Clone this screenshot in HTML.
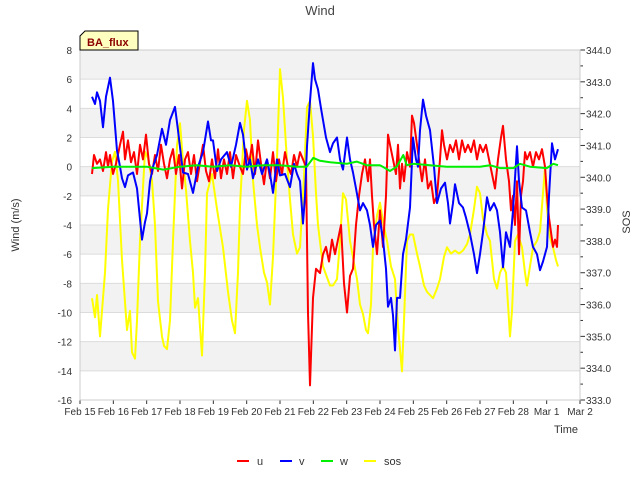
<!DOCTYPE html>
<html><head><meta charset="utf-8"><style>
body{margin:0;background:#fff;}
svg{display:block;font-family:"Liberation Sans",sans-serif;}
</style></head><body>
<svg id="chart" width="640" height="480"></svg>
<script>
const xTickLabels=["Feb 15","Feb 16","Feb 17","Feb 18","Feb 19","Feb 20","Feb 21","Feb 22","Feb 23","Feb 24","Feb 25","Feb 26","Feb 27","Feb 28","Mar 1","Mar 2"];
const yTicks=[8,6,4,2,0,-2,-4,-6,-8,-10,-12,-14,-16];
const y2Ticks=[344,343,342,341,340,339,338,337,336,335,334,333];
const uT=[0.36,0.42,0.51,0.6,0.69,0.78,0.84,0.9,0.99,1.08,1.2,1.29,1.35,1.44,1.53,1.62,1.71,1.8,1.89,1.98,2.07,2.16,2.25,2.34,2.43,2.52,2.61,2.7,2.79,2.88,2.97,3.06,3.15,3.24,3.33,3.42,3.51,3.6,3.69,3.78,3.87,3.96,4.05,4.14,4.23,4.32,4.41,4.5,4.59,4.68,4.8,4.89,4.98,5.07,5.16,5.25,5.34,5.43,5.52,5.61,5.7,5.79,5.88,5.97,6.06,6.15,6.24,6.33,6.42,6.51,6.6,6.69,6.78,6.84,6.9,6.99,7.08,7.2,7.29,7.38,7.47,7.56,7.65,7.74,7.83,7.92,8.01,8.1,8.19,8.28,8.37,8.46,8.55,8.64,8.7,8.76,8.82,8.91,9.0,9.09,9.18,9.24,9.3,9.39,9.48,9.54,9.6,9.66,9.72,9.81,9.9,9.96,10.02,10.08,10.14,10.2,10.26,10.35,10.44,10.53,10.62,10.71,10.8,10.86,10.92,11.01,11.1,11.19,11.28,11.37,11.46,11.55,11.64,11.73,11.82,11.91,12.0,12.09,12.18,12.27,12.36,12.45,12.54,12.63,12.69,12.78,12.87,12.93,12.99,13.05,13.11,13.17,13.23,13.29,13.35,13.41,13.5,13.59,13.68,13.77,13.86,13.95,14.01,14.07,14.13,14.19,14.25,14.31,14.34];
const uV=[-0.5,0.8,0.2,0.5,-0.3,1,0,0.8,-0.5,0.2,1.5,2.4,0.5,1.8,0.3,1,-0.5,1.5,0.5,2.2,0.2,-0.5,0.8,-0.3,1.5,0.2,-0.8,0.5,1.2,-0.5,0.8,-1.5,0.5,1,-0.5,0.8,-1,0.3,1.5,-0.3,-1,0.5,-0.8,1.2,-0.8,0.5,-0.5,1,-0.8,0.8,0,-0.5,1.2,0.2,1.5,-0.5,1.8,0.2,-1.2,0.5,-0.8,1,-1,0.5,-0.5,1,0,-0.5,0.8,0,1,0.5,0,-10,-15,-9,-7,-7.3,-6,-5.5,-6.5,-5,-6,-5,-4,-8,-10,-7.5,-7,-4,-2,-0.5,0.5,-1,0.5,-2,-4,-6,-3,-5.5,-2,2.2,1.5,0.5,-0.5,1.5,-1.5,0.2,-1,1,0,3.5,3,2,1,0,-1,0.5,-1.5,-1,-2.5,-2,0.5,2.5,1.5,0.5,1.5,1,1.8,0.5,1.8,1,1.5,1,1.8,0.5,1.5,1,1.5,0.5,-0.5,-1.5,0.5,2,2.8,0.5,-1,-3,-2,-4,-1,-6,-2,-1,1,0.5,1,0,1,0.5,1.2,0,-2,-3.5,-4.5,-5.5,-5,-5.5,-4];
const vT=[0.36,0.45,0.51,0.6,0.69,0.78,0.9,0.99,1.11,1.2,1.26,1.35,1.44,1.59,1.71,1.86,1.95,2.01,2.1,2.19,2.31,2.46,2.58,2.7,2.85,2.94,3.09,3.24,3.39,3.54,3.69,3.84,3.93,3.99,4.11,4.23,4.41,4.53,4.68,4.8,4.89,5.01,5.1,5.19,5.34,5.46,5.61,5.7,5.79,5.91,6.0,6.15,6.3,6.42,6.51,6.6,6.69,6.75,6.81,6.9,6.99,7.05,7.14,7.23,7.29,7.38,7.5,7.59,7.71,7.8,7.89,8.01,8.1,8.19,8.28,8.4,8.49,8.61,8.7,8.79,8.88,9.0,9.09,9.18,9.24,9.33,9.39,9.45,9.51,9.6,9.69,9.78,9.9,9.99,10.08,10.14,10.2,10.29,10.38,10.5,10.62,10.71,10.83,10.95,11.04,11.1,11.19,11.25,11.37,11.49,11.58,11.7,11.82,11.91,12.0,12.09,12.21,12.3,12.42,12.51,12.6,12.69,12.78,12.9,12.99,13.11,13.17,13.26,13.38,13.5,13.59,13.71,13.8,13.89,14.01,14.07,14.16,14.25,14.34];
const vV=[4.8,4.3,5.1,4.5,2.7,4.8,6.1,4.5,1.1,0,-0.8,-1.4,-0.6,-0.4,-1.5,-5,-3.8,-3.2,-1,0,0.8,2.6,1.5,3.2,4.1,2.5,-0.4,-0.5,-1.8,0,1,3.1,1.8,1.8,-0.3,0.5,1,0,1.5,3,2.2,-0.2,0.5,-0.8,0.5,-0.5,0.5,-0.5,-1.8,0.5,-0.6,-0.5,-1.4,0.2,-0.5,-1,-3.9,-2,1.4,4.5,7.1,6,5.3,4,3.2,2,1,1.6,2,0.5,-0.2,2,0.5,-0.4,-1.5,-3,-2.5,-3,-4,-5.5,-4,-3.7,-5,-7,-9.6,-9,-10.2,-12.6,-9,-9,-6,-5,-2.8,2,0.5,0,2.5,4.6,3.5,2.5,0,-2.5,-1.5,-1.1,-2.5,-3.9,-2.5,-1.2,-2.5,-2.8,-3.5,-4.6,-6,-7.3,-6,-4.5,-2.1,-3,-2.5,-3,-4.5,-6.9,-4.5,-5.5,-3,1.4,-1,-2.8,-3,-4.5,-5.5,-6,-7.1,-6.5,-5.5,-2,1.6,0.5,1.2];
const wT=[0.36,1.0,1.5,2.0,2.5,3.0,3.5,4.0,4.5,5.0,5.5,6.0,6.5,6.8,7.0,7.2,7.5,8.0,8.3,8.6,9.0,9.3,9.5,9.7,9.8,10.0,10.5,11.0,11.5,12.0,12.3,12.6,13.0,13.2,13.5,14.0,14.2,14.34];
const wV=[-0.1,0,0,0,-0.2,0,0.1,0,0.1,0,0.1,0.1,0,0,0.6,0.4,0.3,0.2,0.35,0.1,0.1,-0.3,0,0.8,0.1,0.2,0.1,0,0,0,0.1,-0.1,-0.1,0.2,0,-0.1,0.2,0.1];
const sT=[0.36,0.45,0.51,0.6,0.75,0.84,0.96,1.05,1.14,1.26,1.41,1.5,1.56,1.65,1.71,1.8,1.95,2.04,2.16,2.25,2.34,2.46,2.52,2.61,2.7,2.79,2.91,3.0,3.09,3.18,3.3,3.39,3.45,3.54,3.66,3.75,3.81,3.96,4.11,4.29,4.44,4.56,4.65,4.74,4.8,4.92,5.01,5.1,5.19,5.31,5.4,5.52,5.61,5.7,5.79,5.91,6.0,6.09,6.21,6.3,6.39,6.51,6.6,6.72,6.81,6.9,6.99,7.08,7.14,7.29,7.5,7.59,7.71,7.8,7.89,7.98,8.1,8.22,8.31,8.4,8.49,8.58,8.64,8.73,8.79,8.91,9.0,9.09,9.21,9.33,9.45,9.54,9.66,9.72,9.81,9.9,9.99,10.11,10.2,10.32,10.41,10.5,10.59,10.71,10.8,10.92,11.01,11.13,11.25,11.37,11.49,11.61,11.7,11.82,11.91,12.0,12.09,12.21,12.3,12.42,12.51,12.6,12.69,12.78,12.84,12.9,12.96,13.05,13.14,13.26,13.35,13.41,13.5,13.59,13.71,13.8,13.89,13.95,14.01,14.1,14.19,14.28,14.34];
const sV=[336.2,335.6,336.3,335.0,337.0,339,340.5,340.8,339.9,337.4,335.2,335.8,334.5,334.3,335.5,338,340.8,340.6,339.9,338.5,336.1,335,334.7,334.6,335.5,338,341,341.7,340.5,339.6,338,337,335.9,336.2,334.4,337,339.5,340.1,339,337.8,336.4,335.5,335.1,337,339.1,341.5,342.4,341.8,339.9,338.5,337.8,337,336.7,336,337.5,340.6,343.4,342.5,340.5,339.3,338.2,337.6,337.8,340,342.2,342.4,341.3,339.5,338.5,337.2,336.6,336.6,336.8,338,339.5,339.3,338,337.3,336.8,336,335.7,335.2,335.1,336,337.8,338.8,339.2,338.6,338,337.2,336.8,335.3,333.9,335.5,338,338.2,338.2,337.6,337.2,336.6,336.4,336.3,336.2,336.5,336.8,337.5,337.8,337.6,337.7,337.6,337.7,337.9,338.2,339,339.7,339.5,338.7,338.2,338,336.8,336.5,337,337.2,337,336,335.0,335.8,338,338.2,337.8,337,336.6,337.2,337.8,338,338.3,339.5,340.3,339,338.1,337.8,337.4,337.2];

const L=80,R=580,T=50,B=400;
const xs=d=>L+(R-L)*d/15;
const ys=v=>T+(8-v)*(B-T)/24;
const ys2=v=>T+(344-v)*(B-T)/11;
const svg=document.getElementById('chart');
const NS='http://www.w3.org/2000/svg';
function mk(tag,attrs,parent){const e=document.createElementNS(NS,tag);for(const k in attrs)e.setAttribute(k,attrs[k]);(parent||svg).appendChild(e);return e;}
// bands & grid
for(let i=0;i<12;i+=2){const b=mk('rect',{x:L,y:ys(8-i*2),width:R-L,height:ys(6)-ys(8),fill:'#f2f2f2'});

}
yTicks.forEach(v=>{const g=mk('line',{x1:L,x2:R,y1:ys(v),y2:ys(v),stroke:'#dcdcdc','stroke-width':1});


const t=mk('text',{x:72,y:ys(v)+4,'text-anchor':'end','font-size':10,fill:'#333'});t.textContent=v;

});
y2Ticks.forEach(v=>{mk('line',{x1:R,x2:R+5,y1:ys2(v),y2:ys2(v),stroke:'#333'});
if(v>333)mk('line',{x1:R,x2:R+3,y1:ys2(v-0.5),y2:ys2(v-0.5),stroke:'#333'});
const t=mk('text',{x:586,y:ys2(v)+4,'font-size':10,fill:'#333'});t.textContent=v.toFixed(1);

});
xTickLabels.forEach((s,i)=>{mk('line',{x1:xs(i),x2:xs(i),y1:B,y2:B+4,stroke:'#333'});
const t=mk('text',{x:xs(i),y:415,'text-anchor':'middle','font-size':10,fill:'#333'});t.textContent=s;

});
mk('rect',{x:L,y:T,width:R-L,height:B-T,fill:'none',stroke:'#ccc'});
function line(T_,V_,f,color,name){const d=T_.map((t,i)=>(i?'L':'M')+xs(t).toFixed(1)+','+f(V_[i]).toFixed(1)).join('');
const p=mk('path',{d:d,fill:'none',stroke:color,'stroke-width':2,'stroke-linejoin':'round'});

}
line(sT,sV,ys2,'#ffff00','sos-line');
line(uT,uV,ys,'#ff0000','u-line');
line(vT,vV,ys,'#0000ff','v-line');
line(wT,wV,ys,'#00ee00','w-line');
</script>
<svg width="640" height="480" style="position:absolute;left:0;top:0;font-family:'Liberation Sans',sans-serif">
<text x="320" y="15" text-anchor="middle" font-size="13" fill="#444">Wind</text>
<text transform="translate(19,225) rotate(-90)" text-anchor="middle" font-size="11" fill="#333">Wind (m/s)</text>
<text transform="translate(630,222) rotate(-90)" text-anchor="middle" font-size="11" fill="#333">SOS</text>
<text x="566" y="433" text-anchor="middle" font-size="11" fill="#333">Time</text>
<g><path d="M80,50 L80,36 L85,31 L138,31 L138,50 Z" fill="#ffffc0" stroke="#000"/><text x="87" y="46" font-size="11" font-weight="bold" fill="#8b0000">BA_flux</text></g>
<g>
<line x1="237" x2="249" y1="461" y2="461" stroke="#f00" stroke-width="2"/><text x="257" y="465" font-size="11" fill="#333">u</text>
<line x1="280" x2="292" y1="461" y2="461" stroke="#00f" stroke-width="2"/><text x="299" y="465" font-size="11" fill="#333">v</text>
<line x1="321" x2="333" y1="461" y2="461" stroke="#0e0" stroke-width="2"/><text x="340" y="465" font-size="11" fill="#333">w</text>
<line x1="364" x2="376" y1="461" y2="461" stroke="#ff0" stroke-width="2"/><text x="384" y="465" font-size="11" fill="#333">sos</text>
</g>
</svg>
</body></html>
